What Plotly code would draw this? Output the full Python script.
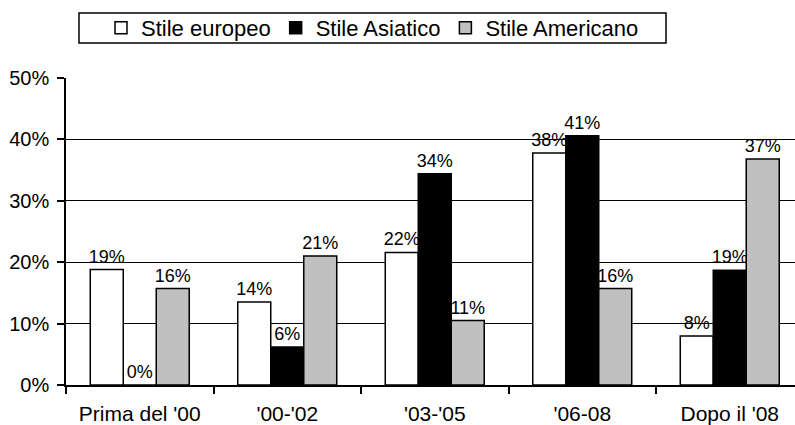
import plotly.graph_objects as go

categories = ["Prima del '00", "'00-'02", "'03-'05", "'06-08", "Dopo il '08"]
series_names = ["Stile europeo", "Stile Asiatico", "Stile Americano"]
europeo = [18.8, 13.5, 21.6, 37.8, 8.0]
asiatico = [0.0, 6.2, 34.4, 40.6, 18.7]
americano = [15.7, 21.0, 10.5, 15.7, 36.8]
labels_europeo = ["19%", "14%", "22%", "38%", "8%"]
labels_asiatico = ["0%", "6%", "34%", "41%", "19%"]
labels_americano = ["16%", "21%", "11%", "16%", "37%"]
y_ticks = [0, 10, 20, 30, 40, 50]
y_ticklabels = ["0%", "10%", "20%", "30%", "40%", "50%"]

colors = ["#FFFFFF", "#000000", "#C0C0C0"]
FONT = "Liberation Sans"

W, H = 795, 425
ML, MR, MT, MB = 66, 0, 78, 40
pw = W - ML - MR
ph = H - MT - MB
cat_w = 147.5
xmax = -0.5 + pw / cat_w

fig = go.Figure()
for name, vals, labs, col in zip(series_names, [europeo, asiatico, americano],
                                 [labels_europeo, labels_asiatico, labels_americano], colors):
    fig.add_trace(go.Bar(
        x=categories, y=vals, name=name, text=labs,
        textposition="outside", constraintext="none", cliponaxis=False,
        textfont=dict(family=FONT, size=18, color="black"),
        marker=dict(color=col, line=dict(color="black", width=1.5)),
    ))

def px_x(px):
    return (px - ML) / pw

def px_y(py):
    return (H - MB - py) / ph

fig.update_layout(
    width=W, height=H,
    margin=dict(l=ML, r=MR, t=MT, b=MB, pad=0),
    paper_bgcolor="white", plot_bgcolor="white",
    barmode="group", bargap=0.329, bargroupgap=0,
    font=dict(family=FONT, color="black"),
    showlegend=True,
    legend=dict(orientation="h", x=px_x(101), xanchor="left", y=px_y(28), yanchor="middle",
                font=dict(family=FONT, size=22, color="black"),
                bgcolor="rgba(0,0,0,0)", borderwidth=0, traceorder="normal"),
    xaxis=dict(range=[-0.5, xmax], showgrid=False, showline=True, linecolor="black", linewidth=1.5,
               ticks="outside", tickson="boundaries", ticklen=7, tickcolor="black", tickwidth=1.5,
               ticklabelstandoff=9,
               tickfont=dict(family=FONT, size=21, color="black"), fixedrange=True),
    yaxis=dict(range=[0, 50], tickmode="array", tickvals=y_ticks, ticktext=y_ticklabels,
               showgrid=True, gridcolor="black",
               gridwidth=1, showline=True, linecolor="black", linewidth=1.5, ticks="outside",
               ticklen=7, tickcolor="black", tickwidth=1.5, zeroline=False,
               ticklabelstandoff=4,
               tickfont=dict(family=FONT, size=20, color="black"), fixedrange=True),
    shapes=[dict(type="rect", xref="paper", yref="paper", x0=px_x(79), x1=px_x(666),
                 y0=px_y(43), y1=px_y(13), line=dict(color="black", width=1.5))],
)

fig.write_html("out.html")
